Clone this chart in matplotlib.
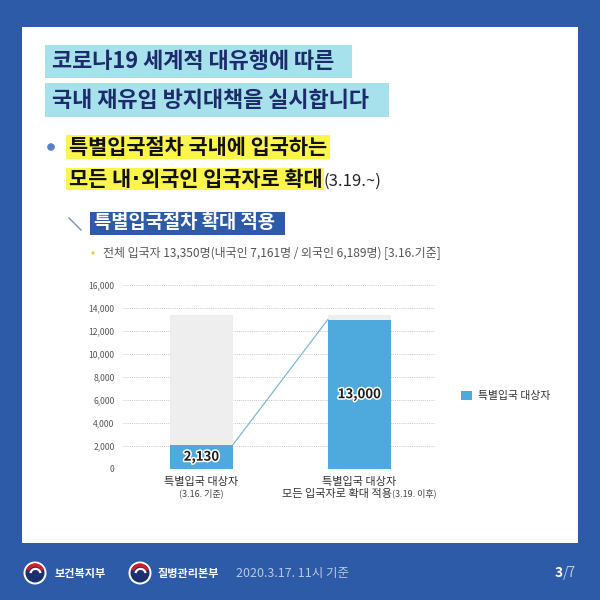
import matplotlib
matplotlib.use("Agg")
import matplotlib.pyplot as plt
from matplotlib.patches import Rectangle, Circle, Wedge
import matplotlib.patheffects as pe

plt.rcParams['font.family'] = ['Noto Sans CJK KR', 'DejaVu Sans']

# ---- data ----
categories = ["특별입국 대상자", "특별입국 대상자"]
sub_labels = ["(3.16. 기준)", "모든 입국자로 확대 적용"]
sub_suffix = ["", "(3.19. 이후)"]
target_values = [2130, 13000]
total_values = [13350, 13350]
value_labels = ["2,130", "13,000"]
y_ticks = [0, 2000, 4000, 6000, 8000, 10000, 12000, 14000, 16000]
y_tick_labels = ["0", "2,000", "4,000", "6,000", "8,000", "10,000", "12,000", "14,000", "16,000"]
legend_label = "특별입국 대상자"

BG = "#2d5ba7"
NAVY = "#1b2b6b"
BAR_BLUE = "#4ea9dc"
BAR_GRAY = "#eeeeee"

fig = plt.figure(figsize=(6, 6), dpi=100)
fig.patch.set_facecolor(BG)
renderer = fig.canvas.get_renderer()

# decoration axes in pixel coords
deco = fig.add_axes([0, 0, 1, 1])
deco.set_xlim(0, 600)
deco.set_ylim(600, 0)
deco.axis("off")


def right_edge(t):
    bb = t.get_window_extent(renderer)
    return bb.x1


# white card
deco.add_patch(Rectangle((22, 27), 556, 516, facecolor="white", edgecolor="none"))

# headline highlights
deco.add_patch(Rectangle((45, 45), 307, 33, facecolor="#a7e1eb", edgecolor="none"))
deco.add_patch(Rectangle((45, 83), 344, 34, facecolor="#a7e1eb", edgecolor="none"))
deco.text(52, 62, "코로나19 세계적 대유행에 따른", fontsize=15.8, fontweight="bold",
          color=NAVY, va="center", ha="left")
deco.text(52, 100.5, "국내 재유입 방지대책을 실시합니다", fontsize=15.8, fontweight="bold",
          color=NAVY, va="center", ha="left")

# bullet + yellow highlight
deco.add_patch(Circle((51, 147), 3.8, facecolor="#5b80c6", edgecolor="none"))
deco.add_patch(Rectangle((66, 135), 264, 24, facecolor="#fcf54c", edgecolor="none"))
deco.add_patch(Rectangle((66, 168), 258, 22, facecolor="#fcf54c", edgecolor="none"))
deco.text(69, 147, "특별입국절차 국내에 입국하는", fontsize=15, fontweight="bold",
          color="#111111", va="center", ha="left")
t1 = deco.text(69, 179, "모든 내", fontsize=15, fontweight="bold",
               color="#111111", va="center", ha="left")
x1 = right_edge(t1)
t2 = deco.text(x1 + 1, 179, "·", fontsize=15, fontweight="bold", family=["DejaVu Sans"],
               color="#111111", va="center", ha="left")
x2 = right_edge(t2)
t3 = deco.text(x2 + 1, 179, "외국인 입국자로 확대", fontsize=15, fontweight="bold",
               color="#111111", va="center", ha="left")
x3 = right_edge(t3)
deco.text(x3 + 1, 181, "(3.19.~)", fontsize=12, color="#222222", va="center", ha="left")

# subheading
deco.plot([69, 81], [218, 230], color="#7c8fb5", lw=1)
deco.add_patch(Rectangle((90, 212), 195, 23, facecolor=BG, edgecolor="none"))
deco.text(94, 223, "특별입국절차 확대 적용", fontsize=13.5, fontweight="bold",
          color="white", va="center", ha="left")

# note
deco.add_patch(Circle((93, 253), 1.6, facecolor="#f5cd3a", edgecolor="none"))
deco.text(103, 253, "전체 입국자 13,350명(내국인 7,161명 / 외국인 6,189명) [3.16.기준]",
          fontsize=8.6, color="#555555", va="center", ha="left")


# footer logos
def logo(cx, cy):
    r = 11.5
    deco.add_patch(Circle((cx, cy), r, facecolor="white", edgecolor="none", zorder=3))
    ri = 9.5
    deco.add_patch(Circle((cx, cy), ri, facecolor="#1c2f6e", edgecolor="none", zorder=4))
    deco.add_patch(Wedge((cx, cy), ri, 200, 340, width=3.2, facecolor="#d0202f",
                         edgecolor="none", zorder=5))
    deco.add_patch(Wedge((cx + 0.5, cy + 1.0), 6.2, 190, 350, width=2.2, facecolor="white",
                         edgecolor="none", zorder=5))


logo(35, 573)
deco.text(55, 573, "보건복지부", fontsize=8, fontweight="bold", color="white", va="center", ha="left")
logo(140, 573)
deco.text(158, 573, "질병관리본부", fontsize=8, fontweight="bold", color="white", va="center", ha="left")
deco.text(236, 573, "2020.3.17. 11시 기준", fontsize=9, color="#b9c8e6", va="center", ha="left")
deco.text(563, 573, "3", fontsize=10, fontweight="bold", color="white", va="center", ha="right")
deco.text(563, 573, "/7", fontsize=10, color="#b9c8e6", va="center", ha="left")

# ---- chart ----
ax = fig.add_axes([123 / 600, (600 - 469) / 600, 312 / 600, 184 / 600])
ax.set_facecolor("none")
x = [0, 1]
w = 0.4
ax.bar(x, total_values, width=w, color=BAR_GRAY, zorder=2)
bars = ax.bar(x, target_values, width=w, color=BAR_BLUE, zorder=3, label=legend_label)
ax.plot([x[0] + w / 2, x[1] - w / 2], [target_values[0], target_values[1]],
        color="#7db7da", lw=0.9, zorder=2)

ax.set_xlim(-0.497, 1.478)
ax.set_ylim(0, 16000)
ax.set_yticks(y_ticks)
ax.set_yticklabels(y_tick_labels, fontsize=6.2, color="#555555")
ax.tick_params(axis="y", length=0, pad=6)
ax.set_xticks([])
ax.grid(axis="y", color="#c8c8c8", linestyle=(0, (1, 1.2)), lw=0.7, zorder=0)
for s in ax.spines.values():
    s.set_visible(False)

for xi, v, lab in zip(x, target_values, value_labels):
    ax.text(xi, v / 2, lab, ha="center", va="center", fontsize=9.5, fontweight="bold",
            color="#1e1e1e",
            path_effects=[pe.withStroke(linewidth=2.2, foreground="white")], zorder=5)

trans = ax.get_xaxis_transform()
for xi, cat in zip(x, categories):
    ax.text(xi, -0.07, cat, transform=trans, ha="center", va="center",
            fontsize=8, color="#333333")
ax.text(x[0], -0.135, sub_labels[0], transform=trans, ha="center", va="center",
        fontsize=6.5, color="#444444")

# second bar, two-part label centred under the bar
ta = ax.text(x[1], -0.135, sub_labels[1], transform=trans, ha="left", va="center",
             fontsize=8, color="#333333")
tb = ax.text(x[1], -0.135, sub_suffix[1], transform=trans, ha="left", va="center",
             fontsize=6.5, color="#444444")
wa = ta.get_window_extent(renderer).width
wb = tb.get_window_extent(renderer).width
cx_pix = ax.transData.transform((x[1], 0))[0]
start = cx_pix - (wa + wb) / 2
inv = ax.transData.inverted()
ta.set_x(inv.transform((start, 0))[0])
tb.set_x(inv.transform((start + wa, 0))[0])

leg = ax.legend(handles=[bars], loc="center left", bbox_to_anchor=(451 / 600, (600 - 396) / 600),
                bbox_transform=fig.transFigure, frameon=False, fontsize=7.8,
                handlelength=1.0, handleheight=1.0, handletextpad=0.6)
for t in leg.get_texts():
    t.set_color("#333333")

fig.savefig("out.png", dpi=100, facecolor=BG)
